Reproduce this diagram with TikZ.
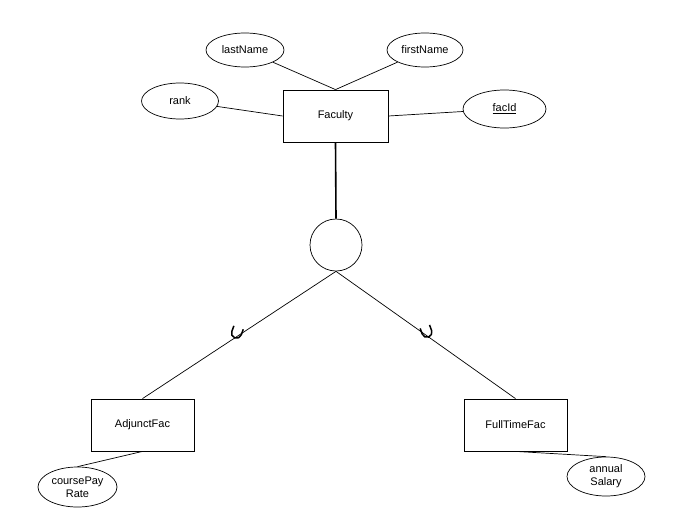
\documentclass[tikz,border=0pt]{standalone}
\usepackage{fontspec}
\setmainfont{Liberation Sans}
\usepackage{tikz}
\usetikzlibrary{calc,positioning,shapes.geometric}
\tikzset{
  entity/.style={draw,rectangle,line width=0.8pt,minimum height=52pt,font=\fontsize{11}{13}\selectfont},
  attrib/.style={draw,ellipse,line width=0.7pt,inner sep=0pt,align=center,font=\fontsize{11}{13}\selectfont},
  subsetU/.pic={\draw[line width=1.5pt] (-5,-11) -- (-5,-5) arc (180:0:5) -- (5,-11);}
}
\begin{document}
\begin{tikzpicture}[x=1pt,y=-1pt,line width=0.7pt]
\useasboundingbox (0,0) rectangle (687,527);
\node[entity,minimum width=105pt] (Fac) at (335.5,116) {Faculty};
\node[entity,minimum width=103pt] (Adj) at (142.5,425) {AdjunctFac};
\node[entity,minimum width=103pt] (Full) at (515.5,425) {FullTimeFac};
\node[draw,circle,minimum size=52pt,line width=0.7pt] (D) at (336,245) {};
\node[attrib,minimum width=78pt,minimum height=34pt] (lastName) at (245,50) {lastName};
\node[attrib,minimum width=76pt,minimum height=34pt] (firstName) at (425,50) {firstName};
\node[attrib,minimum width=77pt,minimum height=36pt] (rank) at (180,101) {rank};
\node[attrib,minimum width=83pt,minimum height=38pt] (facId) at (504.5,109) {\underline{facId}};
\node[attrib,minimum width=79pt,minimum height=40pt] (coursePay) at (77.5,487) {coursePay\\Rate};
\node[attrib,minimum width=78pt,minimum height=39pt] (annual) at (606,476.5) {annual\\Salary};
\draw (lastName) -- (Fac.north);
\draw (firstName) -- (Fac.north);
\draw (rank) -- (Fac.west);
\draw (Fac.east) -- (facId);
\draw[line width=1.6pt] (Fac.south) -- (D.north);
\draw (D.south) -- (Adj.north);
\draw (D.south) -- (Full.north);
\draw (Adj.south) -- (coursePay.north);
\draw (Full.south) -- (annual.north);
\pic[rotate=-20] at ($(D.south)!0.523!(Adj.north)$) {subsetU};
\pic[rotate=20] at ($(D.south)!0.516!(Full.north)$) {subsetU};
\end{tikzpicture}
\end{document}
